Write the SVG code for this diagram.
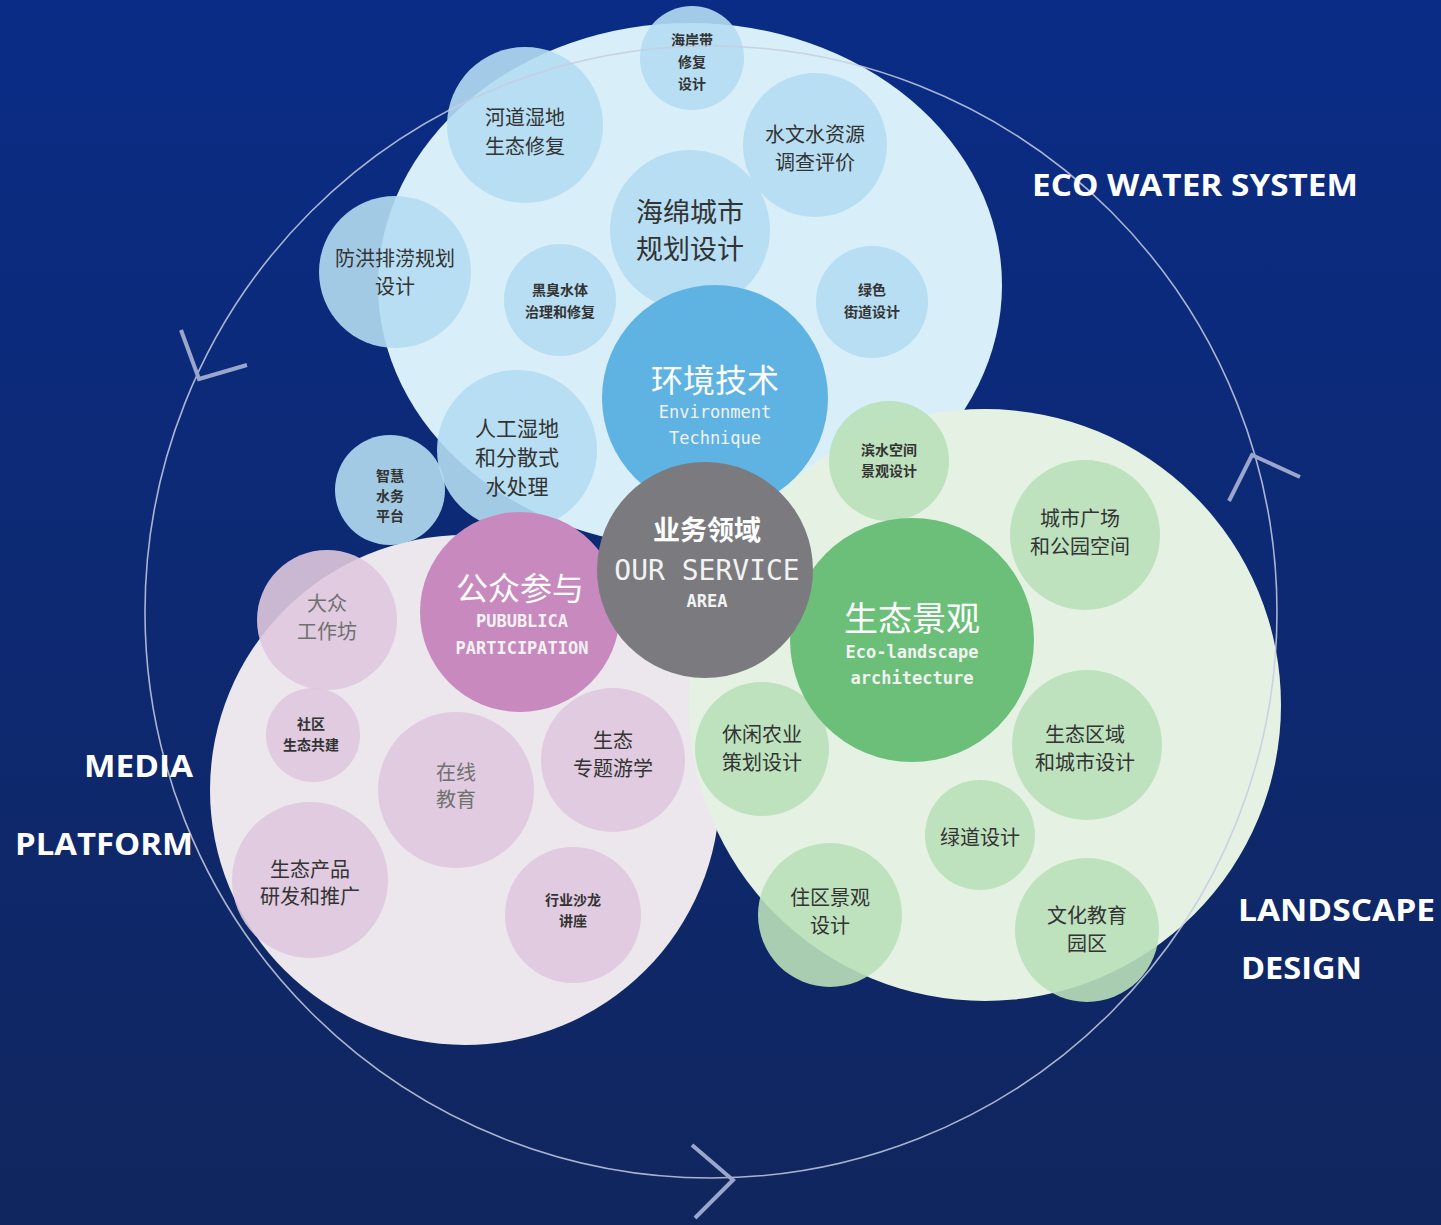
<svg xmlns="http://www.w3.org/2000/svg" width="1441" height="1225" viewBox="0 0 1441 1225">
<defs>
<linearGradient id="bg" x1="0" y1="0" x2="0" y2="1">
<stop offset="0" stop-color="#0a2c86"/>
<stop offset="1" stop-color="#10265e"/>
</linearGradient>
<style>
.cn{font-family:"Noto Sans CJK SC","Noto Sans",sans-serif;text-anchor:middle;fill:#333}
.b{font-weight:bold}
.lb{fill:#b4dbf1;opacity:.9}
.lg{fill:#b9e0b9;opacity:.9}
.lp{fill:#dfc8de;opacity:.9}
.en{font-family:"DejaVu Sans Mono","Liberation Mono",monospace;text-anchor:middle;fill:#f2f2f2}
.lab{font-family:"Open Sans","Liberation Sans",sans-serif;font-weight:bold;font-size:31px;fill:#fff}
.chev{fill:none;stroke:#9aa6cc;stroke-width:4}
</style>
</defs>
<rect width="1441" height="1225" fill="url(#bg)"/>
<g id="blobs">
<ellipse cx="690" cy="285" rx="312" ry="262" fill="#d8eef9"/>
<ellipse cx="465" cy="790" rx="255" ry="255" fill="#ebe7ed"/>
<circle cx="985" cy="705" r="296" fill="#e5f2e3"/>
</g>
<g id="n-haian"><circle cx="692" cy="58" r="52" class="lb"/>
<text class="cn b" font-size="14"><tspan x="692" y="45">海岸带</tspan><tspan x="692" y="67">修复</tspan><tspan x="692" y="89">设计</tspan></text></g>
<g id="n-hedao"><circle cx="525" cy="125" r="78" class="lb"/>
<text class="cn" font-size="20"><tspan x="525" y="125">河道湿地</tspan><tspan x="525" y="154">生态修复</tspan></text></g>
<g id="n-shuiwen"><circle cx="815" cy="145" r="72" class="lb"/>
<text class="cn" font-size="20"><tspan x="815" y="142">水文水资源</tspan><tspan x="815" y="170">调查评价</tspan></text></g>
<g id="n-haimian"><circle cx="690" cy="230" r="80" class="lb"/>
<text class="cn" font-size="27"><tspan x="690" y="222">海绵城市</tspan><tspan x="690" y="259">规划设计</tspan></text></g>
<g id="n-fanghong"><circle cx="395" cy="272" r="76" class="lb"/>
<text class="cn" font-size="20"><tspan x="395" y="266">防洪排涝规划</tspan><tspan x="395" y="294">设计</tspan></text></g>
<g id="n-heichou"><circle cx="560" cy="300" r="56" class="lb"/>
<text class="cn b" font-size="14"><tspan x="560" y="295">黑臭水体</tspan><tspan x="560" y="317">治理和修复</tspan></text></g>
<g id="n-lvse"><circle cx="872" cy="302" r="56" class="lb"/>
<text class="cn b" font-size="14"><tspan x="872" y="295">绿色</tspan><tspan x="872" y="317">街道设计</tspan></text></g>
<g id="n-rengong"><circle cx="517" cy="450" r="80" class="lb"/>
<text class="cn" font-size="21"><tspan x="517" y="436">人工湿地</tspan><tspan x="517" y="465">和分散式</tspan><tspan x="517" y="494">水处理</tspan></text></g>
<g id="n-zhihui"><circle cx="390" cy="490" r="55" class="lb"/>
<text class="cn b" font-size="14"><tspan x="390" y="481">智慧</tspan><tspan x="390" y="501">水务</tspan><tspan x="390" y="521">平台</tspan></text></g>
<g id="n-huanjing"><circle cx="715" cy="398" r="113" fill="#5fb3e3"/>
<text class="cn" font-size="32" style="fill:#fff"><tspan x="715" y="392">环境技术</tspan></text>
<text class="en" font-size="17"><tspan x="715" y="418">Environment</tspan><tspan x="715" y="444">Technique</tspan></text></g>
<g id="n-binshui"><circle cx="889" cy="461" r="60" class="lg"/>
<text class="cn b" font-size="14"><tspan x="889" y="455">滨水空间</tspan><tspan x="889" y="476">景观设计</tspan></text></g>
<g id="n-chengshi"><circle cx="1085" cy="535" r="75" class="lg"/>
<text class="cn" font-size="20"><tspan x="1080" y="526">城市广场</tspan><tspan x="1080" y="554">和公园空间</tspan></text></g>
<g id="n-xiuxian"><circle cx="762" cy="749" r="67" class="lg"/>
<text class="cn" font-size="20"><tspan x="762" y="742">休闲农业</tspan><tspan x="762" y="770">策划设计</tspan></text></g>
<g id="n-shengtaiqu"><circle cx="1087" cy="745" r="75" class="lg"/>
<text class="cn" font-size="20"><tspan x="1085" y="742">生态区域</tspan><tspan x="1085" y="770">和城市设计</tspan></text></g>
<g id="n-lvdao"><circle cx="980" cy="835" r="55" class="lg"/>
<text class="cn" font-size="20"><tspan x="980" y="845">绿道设计</tspan></text></g>
<g id="n-zhuqu"><circle cx="830" cy="915" r="72" class="lg"/>
<text class="cn" font-size="20"><tspan x="830" y="905">住区景观</tspan><tspan x="830" y="933">设计</tspan></text></g>
<g id="n-wenhua"><circle cx="1087" cy="930" r="72" class="lg"/>
<text class="cn" font-size="20"><tspan x="1087" y="923">文化教育</tspan><tspan x="1087" y="951">园区</tspan></text></g>
<g id="n-shengtaijingguan"><circle cx="912" cy="640" r="122" fill="#6bbf78"/>
<text class="cn" font-size="34" style="fill:#fff"><tspan x="912" y="631">生态景观</tspan></text>
<text class="en" font-size="17" font-weight="bold"><tspan x="912" y="658">Eco-landscape</tspan><tspan x="912" y="684">architecture</tspan></text></g>
<g id="n-dazhong"><circle cx="327" cy="620" r="70" class="lp"/>
<text class="cn" font-size="20" style="fill:#707070"><tspan x="327" y="611">大众</tspan><tspan x="327" y="639">工作坊</tspan></text></g>
<g id="n-shequ"><circle cx="313" cy="735" r="47" class="lp"/>
<text class="cn b" font-size="14"><tspan x="311" y="729">社区</tspan><tspan x="311" y="750">生态共建</tspan></text></g>
<g id="n-zaixian"><circle cx="456" cy="790" r="78" class="lp"/>
<text class="cn" font-size="20" style="fill:#707070"><tspan x="456" y="780">在线</tspan><tspan x="456" y="807">教育</tspan></text></g>
<g id="n-youxue"><circle cx="613" cy="760" r="72" class="lp"/>
<text class="cn" font-size="20"><tspan x="613" y="748">生态</tspan><tspan x="613" y="776">专题游学</tspan></text></g>
<g id="n-chanpin"><circle cx="310" cy="880" r="78" class="lp"/>
<text class="cn" font-size="20"><tspan x="310" y="877">生态产品</tspan><tspan x="310" y="904">研发和推广</tspan></text></g>
<g id="n-shalong"><circle cx="573" cy="915" r="68" class="lp"/>
<text class="cn b" font-size="14"><tspan x="573" y="905">行业沙龙</tspan><tspan x="573" y="926">讲座</tspan></text></g>
<g id="n-gongzhong"><circle cx="520" cy="612" r="100" fill="#c889bf"/>
<text class="cn" font-size="32" style="fill:#fff"><tspan x="520" y="600">公众参与</tspan></text>
<text class="en" font-size="17" font-weight="bold"><tspan x="522" y="627">PUBUBLICA</tspan><tspan x="522" y="654">PARTICIPATION</tspan></text></g>
<g id="n-center"><circle cx="705" cy="570" r="108" fill="#7b7b7f"/>
<text class="cn" font-size="27" style="fill:#fff" font-weight="bold"><tspan x="707" y="540">业务领域</tspan></text>
<text class="en" font-size="28"><tspan x="707" y="580">OUR SERVICE</tspan></text>
<text class="en" font-size="17" font-weight="bold"><tspan x="707" y="607">AREA</tspan></text></g>
<g id="connectors">
<circle cx="711" cy="612" r="566" fill="none" stroke="#c6cce0" stroke-opacity=".85" stroke-width="1.6"/>
<polyline class="chev" points="181,330 199,379 247,365"/>
<polyline class="chev" points="1229,501 1252,455 1300,477"/>
<polyline class="chev" points="692,1145 733,1180 695,1218"/>
</g>
<g id="labels">
<text class="lab" x="1032" y="196" textLength="326" lengthAdjust="spacingAndGlyphs">ECO WATER SYSTEM</text>
<text class="lab" x="84" y="777" textLength="109" lengthAdjust="spacingAndGlyphs">MEDIA</text>
<text class="lab" x="15" y="855" textLength="178" lengthAdjust="spacingAndGlyphs">PLATFORM</text>
<text class="lab" x="1238" y="921" textLength="197" lengthAdjust="spacingAndGlyphs">LANDSCAPE</text>
<text class="lab" x="1241" y="979" textLength="121" lengthAdjust="spacingAndGlyphs">DESIGN</text>
</g>
</svg>
